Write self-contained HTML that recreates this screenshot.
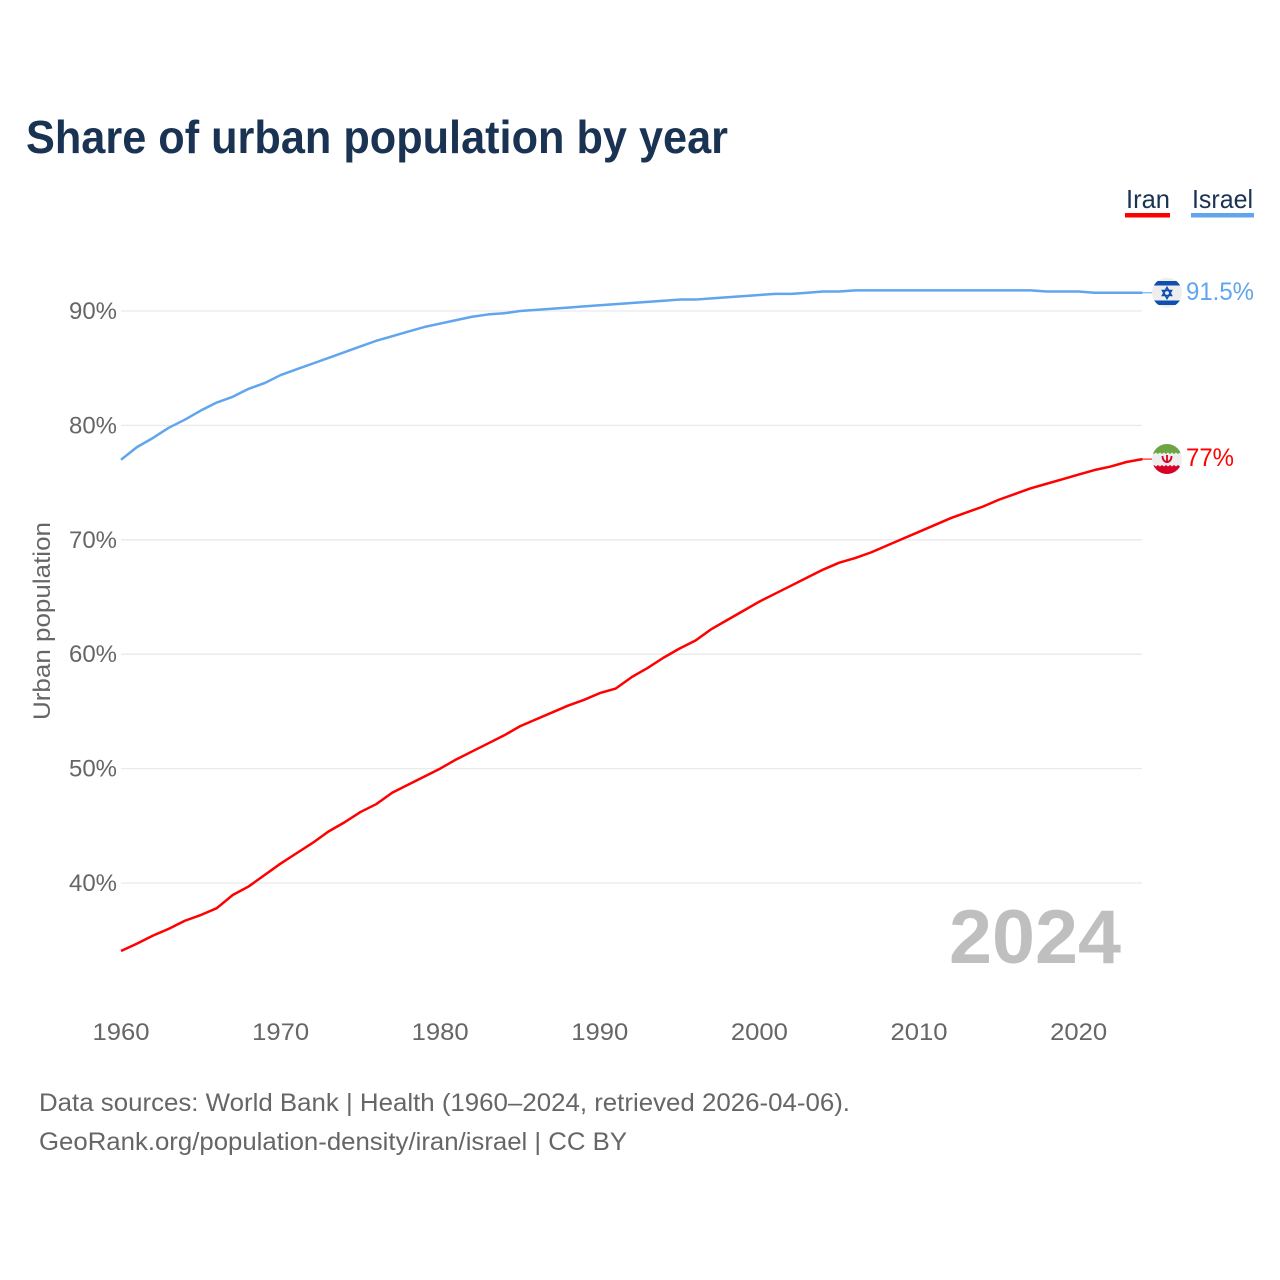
<!DOCTYPE html>
<html>
<head>
<meta charset="utf-8">
<title>Share of urban population by year</title>
<style>
html,body{margin:0;padding:0;background:#fff;width:1280px;height:1280px;overflow:hidden}
svg{display:block}
text{font-family:"Liberation Sans",sans-serif}
</style>
</head>
<body>
<svg id="chart" xmlns="http://www.w3.org/2000/svg" width="1280" height="1280" viewBox="0 0 1280 1280">
  <rect x="0" y="0" width="1280" height="1280" fill="#ffffff"/>
  <text x="26" y="153" font-size="46" font-weight="700" fill="#1a3353" textLength="702" lengthAdjust="spacingAndGlyphs">Share of urban population by year</text>

  <g>
    <text x="1126" y="208" font-size="26" fill="#1a3353" textLength="44" lengthAdjust="spacingAndGlyphs">Iran</text>
    <rect x="1125" y="213" width="45" height="4.5" fill="#ff0000"/>
  </g>
  <g>
    <text x="1192" y="208" font-size="26" fill="#1a3353" textLength="61" lengthAdjust="spacingAndGlyphs">Israel</text>
    <rect x="1191" y="213" width="63" height="4.5" fill="#60a5ee"/>
  </g>

  <g id="grid"></g>
  <g id="yticks"></g>
  <g id="xticks"></g>
  <text transform="translate(50,720) rotate(-90)" font-size="24" fill="#666666" textLength="198" lengthAdjust="spacingAndGlyphs">Urban population</text>
  <text x="949" y="963" font-size="76" font-weight="700" fill="#bfbfbf" textLength="172" lengthAdjust="spacingAndGlyphs">2024</text>
  <g id="series"></g>

  <defs>
    <clipPath id="clip-il"><circle cx="1167" cy="292.7" r="15"/></clipPath>
    <clipPath id="clip-ir"><circle cx="1167" cy="459" r="15"/></clipPath>
  </defs>
  <g id="flag-israel" clip-path="url(#clip-il)">
    <rect x="1152" y="277" width="30" height="31" fill="#eeeeee"/>
    <rect x="1152" y="281" width="30" height="4.5" fill="#0f4fb0"/>
    <rect x="1152" y="300.5" width="30" height="4.5" fill="#0f4fb0"/>
    <polygon points="1167,287.5 1171.5,295.5 1162.5,295.5" fill="none" stroke="#0f4fb0" stroke-width="1.6"/>
    <polygon points="1167,298.5 1171.5,290.5 1162.5,290.5" fill="none" stroke="#0f4fb0" stroke-width="1.6"/>
  </g>
  <g id="flag-iran" clip-path="url(#clip-ir)">
    <rect x="1152" y="444" width="30" height="30" fill="#eeeeee"/>
    <path d="M1152 444H1182V454L1180 452.5L1178 454L1176 452.5L1174 454L1172 452.5L1170 454L1168 452.5L1166 454L1164 452.5L1162 454L1160 452.5L1158 454L1156 452.5L1154 454L1152 452.5Z" fill="#6da544"/>
    <path d="M1152 474H1182V465L1180 466.5L1178 465L1176 466.5L1174 465L1172 466.5L1170 465L1168 466.5L1166 465L1164 466.5L1162 465L1160 466.5L1158 465L1156 466.5L1154 465L1152 466.5Z" fill="#d80027"/>
    <path d="M1162.5 456 C1162.5 464 1171.5 464 1171.5 456 M1167 455 V463" fill="none" stroke="#d80027" stroke-width="1.8"/>
  </g>

  <text x="1186" y="300" font-size="25" fill="#60a5ee" textLength="68" lengthAdjust="spacingAndGlyphs">91.5%</text>
  <text x="1186" y="466" font-size="25" fill="#ff0000" textLength="48" lengthAdjust="spacingAndGlyphs">77%</text>

  <text x="39" y="1111" font-size="25" fill="#666666" textLength="811" lengthAdjust="spacingAndGlyphs">Data sources: World Bank | Health (1960–2024, retrieved 2026-04-06).</text>
  <a><text x="39" y="1150" font-size="25" fill="#666666" textLength="588" lengthAdjust="spacingAndGlyphs">GeoRank.org/population-density/iran/israel | CC BY</text></a>
</svg>
<script>
var firstYear = 1960;
var yTickValues = [40, 50, 60, 70, 80, 90];
var yTickLabels = ["40%", "50%", "60%", "70%", "80%", "90%"];
var xTickValues = [1960, 1970, 1980, 1990, 2000, 2010, 2020];
var xTickLabels = ["1960", "1970", "1980", "1990", "2000", "2010", "2020"];
var iranValues = [34.06, 34.7, 35.4, 36.0, 36.7, 37.2, 37.8, 38.95, 39.7, 40.7,
  41.7, 42.6, 43.5, 44.5, 45.3, 46.2, 46.9, 47.9, 48.6, 49.3,
  50.0, 50.8, 51.5, 52.2, 52.9, 53.7, 54.3, 54.9, 55.5, 56.0,
  56.6, 57.0, 58.0, 58.8, 59.7, 60.5, 61.2, 62.2, 63.0, 63.8,
  64.6, 65.3, 66.0, 66.7, 67.4, 68.0, 68.4, 68.9, 69.5, 70.1,
  70.7, 71.3, 71.9, 72.4, 72.9, 73.5, 74.0, 74.5, 74.9, 75.3,
  75.7, 76.1, 76.4, 76.8, 77.05];
var israelValues = [77.0, 78.1, 78.9, 79.8, 80.5, 81.3, 82.0, 82.5, 83.2, 83.7,
  84.4, 84.9, 85.4, 85.9, 86.4, 86.9, 87.4, 87.8, 88.2, 88.6,
  88.9, 89.2, 89.5, 89.7, 89.8, 90.0, 90.1, 90.2, 90.3, 90.4,
  90.5, 90.6, 90.7, 90.8, 90.9, 91.0, 91.0, 91.1, 91.2, 91.3,
  91.4, 91.5, 91.5, 91.6, 91.7, 91.7, 91.8, 91.8, 91.8, 91.8,
  91.8, 91.8, 91.8, 91.8, 91.8, 91.8, 91.8, 91.8, 91.7, 91.7,
  91.7, 91.6, 91.6, 91.6, 91.6];

var NS = "http://www.w3.org/2000/svg";
function xScale(year) { return 121 + (year - 1960) * 15.96; }
function yScale(value) { return 883 - (value - 40) * 11.44; }
function linePath(values) {
  var d = "";
  for (var i = 0; i < values.length; i++) {
    d += (i ? "L" : "M") + xScale(firstYear + i).toFixed(2) + " " + yScale(values[i]).toFixed(2);
  }
  return d;
}

var grid = document.getElementById("grid");
var yticks = document.getElementById("yticks");
yTickValues.forEach(function (v, i) {
  var ln = document.createElementNS(NS, "line");
  
  
  ln.setAttribute("x1", 121);
  ln.setAttribute("x2", 1142);
  ln.setAttribute("y1", yScale(v));
  ln.setAttribute("y2", yScale(v));
  ln.setAttribute("stroke", "#eaeaea");
  ln.setAttribute("stroke-width", "1.3");
  grid.appendChild(ln);

  var t = document.createElementNS(NS, "text");
  
  
  t.setAttribute("x", 69);
  t.setAttribute("y", yScale(v) + 8);
  t.setAttribute("font-size", "24");
  t.setAttribute("fill", "#666666");
  t.setAttribute("textLength", "48");
  t.setAttribute("lengthAdjust", "spacingAndGlyphs");
  t.textContent = yTickLabels[i];
  yticks.appendChild(t);
});

var xticks = document.getElementById("xticks");
xTickValues.forEach(function (v, i) {
  var t = document.createElementNS(NS, "text");
  
  
  t.setAttribute("x", xScale(v) - 28.5);
  t.setAttribute("y", 1040);
  t.setAttribute("font-size", "24");
  t.setAttribute("fill", "#666666");
  t.setAttribute("textLength", "57");
  t.setAttribute("lengthAdjust", "spacingAndGlyphs");
  t.textContent = xTickLabels[i];
  xticks.appendChild(t);
});

var seriesGroup = document.getElementById("series");

var israelConnector = document.createElementNS(NS, "line");


israelConnector.setAttribute("x1", xScale(2024));
israelConnector.setAttribute("x2", 1153);
israelConnector.setAttribute("y1", yScale(israelValues[israelValues.length - 1]));
israelConnector.setAttribute("y2", yScale(israelValues[israelValues.length - 1]));
israelConnector.setAttribute("stroke", "#60a5ee");
israelConnector.setAttribute("stroke-width", "1.5");
israelConnector.setAttribute("opacity", "0.7");
seriesGroup.appendChild(israelConnector);

var iranConnector = document.createElementNS(NS, "line");


iranConnector.setAttribute("x1", xScale(2024));
iranConnector.setAttribute("x2", 1153);
iranConnector.setAttribute("y1", yScale(iranValues[iranValues.length - 1]));
iranConnector.setAttribute("y2", yScale(iranValues[iranValues.length - 1]));
iranConnector.setAttribute("stroke", "#ff0000");
iranConnector.setAttribute("stroke-width", "1.5");
iranConnector.setAttribute("opacity", "0.7");
seriesGroup.appendChild(iranConnector);

var israelLine = document.createElementNS(NS, "path");


israelLine.setAttribute("d", linePath(israelValues));
israelLine.setAttribute("fill", "none");
israelLine.setAttribute("stroke", "#60a5ee");
israelLine.setAttribute("stroke-width", "2.5");
israelLine.setAttribute("stroke-linejoin", "round");
seriesGroup.appendChild(israelLine);

var iranLine = document.createElementNS(NS, "path");


iranLine.setAttribute("d", linePath(iranValues));
iranLine.setAttribute("fill", "none");
iranLine.setAttribute("stroke", "#ff0000");
iranLine.setAttribute("stroke-width", "2.5");
iranLine.setAttribute("stroke-linejoin", "round");
seriesGroup.appendChild(iranLine);
</script>
</body>
</html>
